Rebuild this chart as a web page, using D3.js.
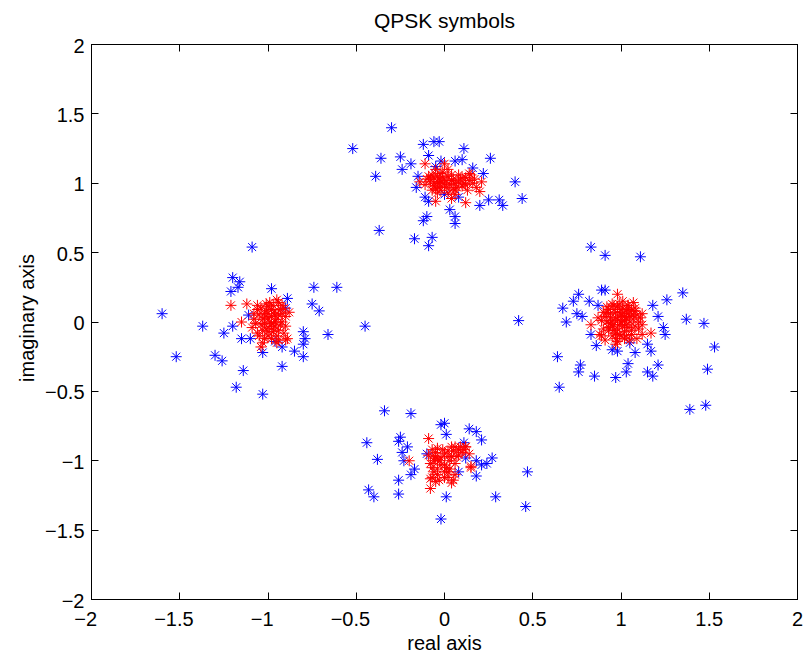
<!DOCTYPE html>
<html>
<head>
<meta charset="utf-8">
<script src="https://cdn.jsdelivr.net/npm/d3@7"></script>
<style>
  body { margin: 0; background: #fff; }
  svg text { font-family: "Liberation Sans", Arial, Helvetica, sans-serif; fill: #000; }
</style>
</head>
<body>
<svg id="chart" width="803" height="659"></svg>
<script>
// Axis ticks
const xTicks = [-2, -1.5, -1, -0.5, 0, 0.5, 1, 1.5, 2];
const yTicks = [-2, -1.5, -1, -0.5, 0, 0.5, 1, 1.5, 2];
const xTickLabels = ["\u22122", "\u22121.5", "\u22121", "\u22120.5", "0", "0.5", "1", "1.5", "2"];
const yTickLabels = ["\u22122", "\u22121.5", "\u22121", "\u22120.5", "0", "0.5", "1", "1.5", "2"];

// Received QPSK symbols (noisy channel), [real, imag]
const receivedSymbols = [
  // around (0, 1)
  [-0.30,1.40],[-0.52,1.25],[-0.36,1.18],[-0.25,1.19],[-0.39,1.05],[-0.12,1.28],[-0.06,1.30],[-0.03,1.30],
  [-0.09,1.20],[0.11,1.25],[-0.19,1.14],[-0.24,1.10],[-0.02,1.16],[0.06,1.16],[0.10,1.17],[0.16,1.11],
  [0.22,1.07],[0.26,1.18],[0.40,1.01],[0.44,0.89],[-0.16,0.97],[-0.11,0.90],[-0.09,0.87],[0.20,0.84],
  [0.25,0.88],[0.31,0.88],[0.33,0.84],[0.03,0.81],[0.06,0.76],[0.06,0.71],[-0.10,0.76],[-0.12,0.73],
  [-0.37,0.66],[-0.17,0.60],[-0.07,0.61],[-0.09,0.55],[0.00,0.92],[-0.15,1.05],[0.08,0.90],[-0.05,1.12],
  // around (-1, 0)
  [-1.09,0.54],[-1.20,0.32],[-1.16,0.29],[-1.17,0.25],[-1.21,0.22],[-0.98,0.24],[-0.74,0.25],[-0.61,0.25],
  [-0.89,0.17],[-0.75,0.13],[-0.71,0.08],[-1.60,0.06],[-1.37,-0.03],[-1.25,-0.08],[-1.20,-0.03],[-1.15,-0.12],
  [-1.10,-0.12],[-0.80,-0.07],[-0.79,-0.12],[-0.66,-0.09],[-0.80,-0.16],[-0.92,-0.18],[-0.85,-0.21],[-1.03,-0.22],
  [-0.80,-0.25],[-1.52,-0.25],[-1.30,-0.24],[-1.26,-0.28],[-1.14,-0.35],[-0.92,-0.32],[-1.18,-0.47],[-1.03,-0.52],
  [-1.11,0.05],[-0.96,-0.14],[-0.45,-0.03],[-0.90,0.10],
  // around (1, 0)
  [0.83,0.54],[0.91,0.48],[1.11,0.47],[0.42,0.01],[0.76,0.20],[0.73,0.15],[0.67,0.10],[0.69,0.00],
  [0.75,0.06],[0.78,0.04],[0.82,0.15],[0.87,0.12],[0.89,0.23],[0.91,0.23],[1.18,0.12],[1.26,0.16],
  [1.35,0.21],[1.21,0.04],[1.37,0.02],[1.47,-0.01],[1.24,-0.04],[1.25,-0.09],[1.53,-0.18],[0.83,-0.09],
  [0.86,-0.17],[0.95,-0.20],[0.98,-0.21],[1.05,-0.15],[1.08,-0.22],[1.15,-0.16],[1.17,-0.21],[0.64,-0.25],
  [0.77,-0.31],[0.76,-0.36],[0.85,-0.39],[0.97,-0.40],[1.03,-0.36],[1.04,-0.30],[1.15,-0.36],[1.18,-0.39],
  [1.21,-0.31],[1.49,-0.34],[0.65,-0.47],[1.39,-0.63],[1.48,-0.60],
  // around (0, -1)
  [-0.34,-0.64],[-0.19,-0.66],[-0.02,-0.74],[0.00,-0.73],[0.01,-0.81],[0.14,-0.77],[0.18,-0.79],[0.21,-0.85],
  [-0.44,-0.87],[-0.25,-0.83],[-0.26,-0.86],[-0.21,-0.90],[-0.24,-0.94],[-0.38,-0.99],[-0.23,-1.00],[-0.17,-1.06],
  [-0.19,-1.10],[-0.26,-1.14],[0.11,-0.87],[0.12,-0.98],[0.18,-1.00],[0.21,-1.03],[0.24,-1.02],[0.27,-0.98],
  [0.18,-1.11],[0.47,-1.08],[-0.43,-1.21],[-0.40,-1.26],[-0.26,-1.24],[0.01,-1.26],[0.29,-1.26],[0.46,-1.33],
  [-0.02,-1.42],[-0.10,-0.95],[0.08,-1.08]
];

// Symbols after equalization (low residual noise), [real, imag]
const equalizedSymbols = [
  // around (0, 1)
  [-0.11,1.14],[0.00,1.14],[-0.05,1.10],[-0.07,1.06],[-0.04,1.05],[-0.02,1.01],[-0.06,1.00],[-0.08,1.01],
  [-0.14,1.01],[0.00,0.98],[-0.05,0.96],[0.02,0.93],[0.06,0.95],[0.08,1.01],[0.12,1.04],[0.14,1.02],
  [0.15,1.06],[0.21,1.01],[0.20,0.94],[0.12,0.86],[0.04,0.89],[-0.05,0.87],[-0.11,0.99],[0.10,0.98],
  [0.04,1.06],[0.06,1.00],[-0.02,1.07],[-0.09,1.05],[-0.03,1.03],[0.01,1.02],[-0.06,0.98],[0.02,1.05],
  [-0.02,0.95],[0.03,0.99],[-0.04,1.01],[0.07,0.97],[0.00,1.00],[-0.08,1.03],[0.05,1.03],[0.12,0.99],
  [0.16,1.00],[-0.01,1.08],[-0.03,1.00],[0.01,0.97],[0.04,1.02],[-0.06,1.04],[0.09,1.03],[0.11,1.00],
  [0.17,1.03],[-0.01,1.04],[0.05,0.96],[-0.03,0.97],[0.08,1.06],[0.13,0.95],[-0.07,0.95],[0.02,1.10],
  [0.18,0.97],[0.06,0.92],[-0.10,1.03],[0.10,1.04],[-0.04,0.93],[0.14,1.07],
  // around (-1, 0)
  [-1.21,0.12],[-1.12,0.13],[-1.15,0.00],[-0.95,0.16],[-1.04,-0.18],[-0.89,-0.12],[-1.06,0.09],[-1.00,0.11],
  [-0.94,0.14],[-0.92,0.06],[-1.08,0.02],[-1.02,-0.01],[-0.96,-0.03],[-0.90,-0.03],[-1.06,-0.08],[-1.00,-0.10],
  [-0.94,-0.13],[-1.09,-0.04],[-0.98,0.04],[-1.02,0.06],[-1.03,0.02],[-0.99,0.00],[-0.96,0.05],[-1.01,-0.05],
  [-0.97,-0.07],[-1.05,0.05],[-0.92,0.00],[-1.00,0.03],[-0.94,-0.06],[-1.04,-0.02],[-0.98,0.09],[-0.91,0.10],
  [-1.02,-0.12],[-0.95,0.02],[-1.01,0.08],[-0.97,0.12],[-0.93,0.09],[-1.04,0.10],[-0.99,-0.03],[-1.03,-0.06],
  [-0.95,-0.10],[-0.90,0.04],[-1.07,-0.01],[-0.98,-0.12],[-1.00,0.06],[-0.96,0.00],[-0.93,-0.02],[-1.05,-0.10],
  [-0.99,0.14],[-0.92,0.12],[-1.06,0.12],[-0.97,-0.05],[-1.02,0.03],[-0.94,0.05],[-0.88,0.07],[-1.00,-0.07],
  [-0.96,0.08],[-1.03,-0.15],[-0.91,-0.08],[-1.08,0.06],[-0.98,-0.01],[-0.95,-0.15],[-0.90,-0.13],[-1.01,0.13],
  // around (1, 0)
  [0.98,0.20],[0.83,-0.02],[1.17,-0.08],[0.97,-0.16],[0.88,-0.09],[0.87,0.03],[1.11,0.03],[1.12,-0.09],
  [0.98,-0.14],[0.89,-0.10],[0.92,0.11],[1.04,0.12],[1.08,0.08],[0.93,-0.04],[1.00,0.00],[0.97,0.03],
  [1.03,-0.02],[0.95,-0.03],[1.05,0.04],[0.99,0.07],[1.02,-0.07],[0.94,0.06],[1.08,-0.03],[0.98,-0.05],
  [1.01,0.10],[1.06,0.08],[0.96,0.09],[1.03,0.03],[0.92,0.00],[1.10,0.00],[1.00,-0.10],[0.97,-0.08],
  [1.04,0.12],[0.93,-0.06],[1.06,-0.06],[1.01,0.04],[1.12,0.06],[0.90,0.07],[1.09,-0.12],[0.95,0.13],
  [1.07,0.14],[0.91,-0.13],[0.95,0.01],[0.99,-0.02],[1.02,0.01],[1.04,-0.04],[0.96,-0.06],[1.00,0.05],
  [1.05,0.00],[0.98,0.11],[1.03,0.08],[0.94,0.03],[1.07,0.02],[0.99,-0.09],[1.02,-0.12],[0.96,0.12],
  [1.09,0.05],[0.91,0.04],[1.06,-0.09],[0.97,-0.12],[1.01,0.15],[0.93,0.09],[1.08,0.10],[1.10,-0.05],
  [0.90,-0.05],[1.04,0.06],[0.98,0.02],[1.01,-0.03],[0.95,-0.10],[1.03,-0.10],[0.97,0.07],[1.05,-0.13],
  [0.94,-0.01],[1.00,0.09],[1.12,-0.02],[0.89,0.01],[1.07,0.05],[0.99,0.13],[1.02,0.04],[0.96,-0.02],
  [1.04,0.09],[0.92,0.07],
  // around (0, -1)
  [-0.09,-0.84],[-0.20,-1.00],[-0.08,-1.13],[0.15,-1.05],[0.05,-1.14],[-0.04,-0.91],[0.06,-0.90],[0.12,-0.90],
  [0.08,-0.96],[0.02,-0.93],[-0.06,-1.00],[0.00,-1.03],[-0.04,-1.10],[-0.07,-1.12],[0.06,-1.10],[0.04,-1.16],
  [-0.08,-1.20],[0.15,-1.04],[-0.07,-1.05],[0.04,-0.97],[-0.02,-0.98],[0.01,-1.05],[-0.05,-0.94],[0.03,-1.00],
  [-0.04,-1.06],[0.08,-0.92],[0.10,-0.94],[0.00,-1.12],[-0.06,-0.98],[0.06,-1.02],[-0.01,-0.92],[0.12,-0.90],
  [0.02,-1.08],[-0.03,-1.00],[-0.05,-0.97],[-0.02,-1.03],[0.02,-0.97],[-0.08,-1.02],[0.05,-0.93],[0.09,-0.90],
  [-0.04,-0.99],[0.00,-0.95],[-0.06,-1.08],[0.03,-1.06],[-0.09,-0.96],[0.07,-0.97],[0.11,-0.92],[-0.03,-1.14],
  [0.02,-1.12],[-0.07,-0.92],[0.14,-0.95],[0.04,-0.90],[-0.05,-1.15],[0.00,-1.08]
];

// Layout of the axes box (pixels)
const boxLeft = 91.5, boxRight = 797.5, boxTop = 44.5, boxBottom = 599.5;
const tickLen = 7;

const svg = d3.select("#chart");
const x = d3.scaleLinear().domain([-2, 2]).range([boxLeft, boxRight]);
const y = d3.scaleLinear().domain([-2, 2]).range([boxBottom, boxTop]);

// Axes box
svg.append("rect")
  .attr("x", boxLeft).attr("y", boxTop)
  .attr("width", boxRight - boxLeft).attr("height", boxBottom - boxTop)
  .attr("fill", "none").attr("stroke", "#000").attr("stroke-width", 1);

// Inward ticks on all four sides
const tickG = svg.append("g").attr("stroke", "#000").attr("stroke-width", 1);
xTicks.forEach(t => {
  const px = Math.round(x(t) - 0.5) + 0.5;
  tickG.append("line").attr("x1", px).attr("x2", px).attr("y1", boxBottom).attr("y2", boxBottom - tickLen);
  tickG.append("line").attr("x1", px).attr("x2", px).attr("y1", boxTop).attr("y2", boxTop + tickLen);
});
yTicks.forEach(t => {
  const py = Math.round(y(t) - 0.5) + 0.5;
  tickG.append("line").attr("y1", py).attr("y2", py).attr("x1", boxLeft).attr("x2", boxLeft + tickLen);
  tickG.append("line").attr("y1", py).attr("y2", py).attr("x1", boxRight).attr("x2", boxRight - tickLen);
});

// X tick labels: the number part is centred on the tick, the minus sign hangs to its left
const xLab = svg.append("g").attr("font-size", 20);
xTicks.forEach((t, i) => {
  const label = xTickLabels[i];
  const digits = label.replace("\u2212", "");
  const probe = xLab.append("text").text(digits);
  const w = probe.node().getComputedTextLength();
  probe.remove();
  xLab.append("text")
    .attr("x", x(t) + w / 2)
    .attr("y", 626)
    .attr("text-anchor", "end")
    .text(label);
});

// Y tick labels
const yLab = svg.append("g").attr("font-size", 20);
yTicks.forEach((t, i) => {
  yLab.append("text")
    .attr("x", boxLeft - 7)
    .attr("y", y(t) + 8)
    .attr("text-anchor", "end")
    .text(yTickLabels[i]);
});

// Asterisk marker: plus with a cross
const s = 5.5, d = 4;
const star = `M${-s},0H${s}M0,${-s}V${s}M${-d},${-d}L${d},${d}M${-d},${d}L${d},${-d}`;

function drawSeries(data, color) {
  svg.append("g")
    .attr("fill", "none")
    .attr("stroke", color)
    .attr("stroke-width", 1)
    .selectAll("path")
    .data(data)
    .join("path")
    .attr("transform", p => `translate(${x(p[0])},${y(p[1])})`)
    .attr("d", star);
}
drawSeries(receivedSymbols, "#0000ff");
drawSeries(equalizedSymbols, "#ff0000");

// Title and axis labels
svg.append("text")
  .attr("x", (boxLeft + boxRight) / 2).attr("y", 28)
  .attr("text-anchor", "middle").attr("font-size", 21)
  .text("QPSK symbols");

svg.append("text")
  .attr("x", (boxLeft + boxRight) / 2).attr("y", 650)
  .attr("text-anchor", "middle").attr("font-size", 20)
  .text("real axis");

svg.append("text")
  .attr("transform", "translate(34,318) rotate(-90)")
  .attr("text-anchor", "middle").attr("font-size", 20)
  .text("imaginary axis");
</script>
</body>
</html>
